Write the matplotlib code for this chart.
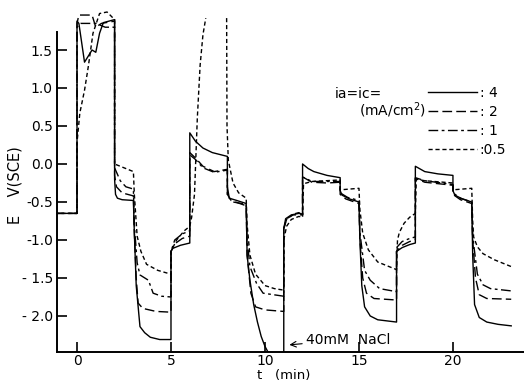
import numpy as np
import matplotlib
matplotlib.use("Agg")
import matplotlib.pyplot as plt

nan = np.nan

# (t [min], E [V vs SCE]) for each current density
curve_4 = [(-1.2, -0.65), (0, -0.65), (0, 1.88), (0.1, 1.85), (0.4, 1.34), (0.8, 1.5), (1.0, 1.47),
           (1.2, 1.72), (1.4, 1.86), (2.0, 1.9),
           (2.0, -0.2), (2.05, -0.4), (2.15, -0.45), (2.4, -0.47), (3.0, -0.48),
           (3.05, -0.9), (3.15, -1.6), (3.35, -2.14), (3.6, -2.22), (3.9, -2.28), (4.4, -2.31), (5.0, -2.31),
           (5.0, -1.15), (5.1, -1.11), (5.5, -1.07), (6.0, -1.04),
           (6.0, 0.41), (6.3, 0.3), (6.7, 0.21), (7.2, 0.15), (8.0, 0.1),
           (8.0, -0.3), (8.1, -0.45), (8.5, -0.48), (9.0, -0.52),
           (9.05, -1.2), (9.2, -1.53), (9.4, -1.85), (9.6, -2.08), (9.8, -2.27), (10.0, -2.4),
           (10.15, -2.47), (10.5, -2.6), (11.0, -2.6),
           (11.0, -0.85), (11.1, -0.72), (11.4, -0.67), (11.8, -0.65), (12.0, -0.66),
           (12.0, 0.0), (12.3, -0.06), (12.6, -0.1), (13.3, -0.15), (14.0, -0.18),
           (14.0, -0.35), (14.1, -0.41), (14.5, -0.46), (15.0, -0.5),
           (15.05, -1.0), (15.15, -1.6), (15.3, -1.88), (15.6, -2.0), (16.0, -2.05), (17.0, -2.08),
           (17.0, -1.15), (17.3, -1.1), (17.7, -1.06), (18.0, -1.04),
           (18.0, -0.03), (18.5, -0.1), (19.2, -0.13), (20.0, -0.15),
           (20.0, -0.35), (20.1, -0.41), (20.5, -0.46), (21.0, -0.5),
           (21.05, -1.2), (21.15, -1.85), (21.4, -2.02), (21.8, -2.08), (22.4, -2.11), (23.1, -2.13)]

curve_2 = [(-1.2, -0.65), (0, -0.65), (0, 1.85), (0.1, 1.96), (0.8, 1.96), (1.0, 1.8), (1.3, 1.85), (2.0, 1.88),
           (2.0, -0.15), (2.1, -0.3), (2.4, -0.38), (3.0, -0.42),
           (3.05, -0.9), (3.15, -1.5), (3.25, -1.83), (3.5, -1.9), (4.2, -1.94), (5.0, -1.95),
           (5.0, -1.15), (5.2, -1.05), (5.6, -0.98), (6.0, -0.95),
           (6.0, 0.15), (6.3, 0.08), (6.7, -0.03), (7.3, -0.1), (8.0, -0.07),
           (8.0, -0.4), (8.2, -0.48), (9.0, -0.55),
           (9.05, -1.2), (9.25, -1.7), (9.5, -1.88), (10.0, -1.92), (11.0, -1.94),
           (11.0, -0.85), (11.15, -0.72), (11.5, -0.67), (12.0, -0.67),
           (12.0, -0.17), (12.5, -0.24), (13.3, -0.25), (14.0, -0.24),
           (14.0, -0.4), (14.3, -0.46), (15.0, -0.52),
           (15.05, -1.0), (15.2, -1.5), (15.4, -1.7), (15.8, -1.77), (17.0, -1.79),
           (17.0, -1.15), (17.3, -1.07), (17.7, -1.02), (18.0, -1.0),
           (18.0, -0.19), (18.5, -0.24), (20.0, -0.28),
           (20.0, -0.4), (20.4, -0.47), (21.0, -0.52),
           (21.05, -1.0), (21.2, -1.5), (21.4, -1.72), (21.8, -1.77), (23.1, -1.78)]

curve_1 = [(-1.2, -0.65), (0, -0.65), (0, 1.8), (0.2, 1.85), (1.0, 1.85), (1.5, 1.8), (2.0, 1.8),
           (2.0, -0.05), (2.3, -0.22), (2.6, -0.3), (3.0, -0.33),
           (3.05, -0.8), (3.2, -1.3), (3.35, -1.46), (3.8, -1.53), (4.05, -1.7), (4.5, -1.74), (5.0, -1.75),
           (5.0, -1.15), (5.2, -1.0), (5.6, -0.92), (6.0, -0.88),
           (6.0, 0.12), (6.3, 0.06), (6.7, -0.05), (7.3, -0.11), (8.0, -0.08),
           (8.0, -0.42), (8.3, -0.5), (9.0, -0.53),
           (9.05, -1.0), (9.2, -1.35), (9.55, -1.57), (9.9, -1.7), (11.0, -1.74),
           (11.0, -0.85), (11.15, -0.73), (11.5, -0.66), (11.8, -0.64), (12.0, -0.67),
           (12.0, -0.17), (12.5, -0.23), (14.0, -0.23),
           (14.0, -0.38), (14.4, -0.44), (15.0, -0.48),
           (15.05, -0.9), (15.3, -1.4), (15.6, -1.53), (16.1, -1.64), (17.0, -1.68),
           (17.0, -1.1), (17.3, -1.02), (17.7, -0.98), (18.0, -0.96),
           (18.0, -0.18), (18.5, -0.22), (20.0, -0.27),
           (20.0, -0.38), (20.4, -0.45), (21.0, -0.5),
           (21.05, -0.95), (21.3, -1.45), (21.6, -1.59), (22.0, -1.64), (23.1, -1.67)]

curve_05 = [(-1.2, -0.65), (0, -0.65), (0, 0.28), (0.15, 0.67), (0.4, 0.97), (0.6, 1.28), (0.85, 1.72),
            (1.2, 1.98), (1.6, 2.0), (2.0, 1.9),
            (2.0, 0.0), (2.5, -0.05), (3.0, -0.1),
            (3.05, -0.4), (3.2, -0.95), (3.4, -1.15), (3.7, -1.32), (4.3, -1.4), (5.0, -1.45),
            (5.0, -1.15), (5.3, -1.0), (5.7, -0.88), (6.0, -0.82),
            (6.1, -0.7), (6.25, -0.4), (6.4, 0.6), (6.55, 1.3), (6.7, 1.7), (6.85, 1.92),
            (7.4, nan),  # off scale
            (7.96, 1.92), (7.98, 0.5), (8.05, 0.05), (8.3, -0.25), (8.6, -0.38), (9.0, -0.45),
            (9.05, -0.8), (9.2, -1.2), (9.5, -1.45), (10.0, -1.6), (10.5, -1.64), (11.0, -1.66),
            (11.0, -1.0), (11.15, -0.82), (11.4, -0.73), (11.8, -0.69), (12.0, -0.7),
            (12.05, -0.26), (12.5, -0.23), (14.0, -0.21),
            (14.0, -0.34), (15.0, -0.32),
            (15.05, -0.6), (15.2, -0.91), (15.5, -1.13), (16.0, -1.29), (17.0, -1.39),
            (17.05, -1.0), (17.15, -0.9), (17.4, -0.78), (17.7, -0.7), (18.0, -0.65),
            (18.05, -0.2), (18.5, -0.22), (20.0, -0.25),
            (20.0, -0.34), (21.0, -0.32),
            (21.05, -0.75), (21.1, -0.96), (21.3, -1.09), (21.6, -1.18), (22.2, -1.26), (23.1, -1.35)]

labels = [': 4', ': 2', ': 1', ':0.5']
series = [curve_4, curve_2, curve_1, curve_05]
dashes = [None, (7, 3), (7, 2.5, 2, 2.5), (3, 2)]

xticks = [0, 5, 10, 15, 20]
yticks = [-2.0, -1.5, -1.0, -0.5, 0.0, 0.5, 1.0, 1.5]
yticklabels = ['- 2.0', '- 1.5', '-1.0', '-0.5', '0.0', '0.5', '1.0', '1.5']

fig = plt.figure(figsize=(5.24, 3.83), dpi=100)
ax = fig.add_axes([57 / 524, 31 / 383, 467 / 524, 352 / 383])

handles = []
for pts, ds, lab in reversed(list(zip(series, dashes, labels))):
    t = [p[0] for p in pts]
    e = [p[1] for p in pts]
    ln, = ax.plot(t, e, color='black', lw=1.0, label=lab)
    if ds is not None:
        ln.set_dashes(ds)
    handles.append(ln)
handles = handles[::-1]

ax.set_xlim(-1.064, 23.78)
ax.set_ylim(-2.474, 2.158)
ax.spines['top'].set_visible(False)
ax.spines['right'].set_visible(False)
ax.spines['left'].set_bounds(-2.474, 1.74)
ax.spines['left'].set_linewidth(1.4)
ax.spines['bottom'].set_linewidth(1.4)
ax.set_xticks(xticks)
ax.set_yticks(yticks)
ax.set_yticklabels(yticklabels)
ax.tick_params(direction='in', length=7, width=1.2, labelsize=10)
ax.tick_params(axis='x', pad=1.5)
ax.tick_params(axis='y', pad=3)

fig.text(15 / 524, 1 - 185 / 383, 'E    V(SCE)', rotation=90, ha='center', va='center', fontsize=10.5)
fig.text(284 / 524, 1 - 375 / 383, 't   (min)', ha='center', va='center', fontsize=9.5)

ax.annotate('40mM  NaCl', xy=(11.3, -2.38), xytext=(12.2, -2.31), ha='left', va='center', fontsize=10,
            arrowprops=dict(arrowstyle='->', lw=0.8, color='black', shrinkA=1, shrinkB=0))

ax.legend(handles, labels, loc='upper right', bbox_to_anchor=(506 / 524, 1 - 86 / 383),
          bbox_transform=fig.transFigure, frameon=False, fontsize=10, handlelength=3.5,
          handletextpad=0.2, labelspacing=0.35, borderaxespad=0, borderpad=0)
fig.text(335 / 524, 1 - 94 / 383, 'ia=ic=', ha='left', va='center', fontsize=10)
fig.text(426 / 524, 1 - 110 / 383, '(mA/cm$^2$)', ha='right', va='center', fontsize=10)

fig.savefig('out.png', dpi=100)
